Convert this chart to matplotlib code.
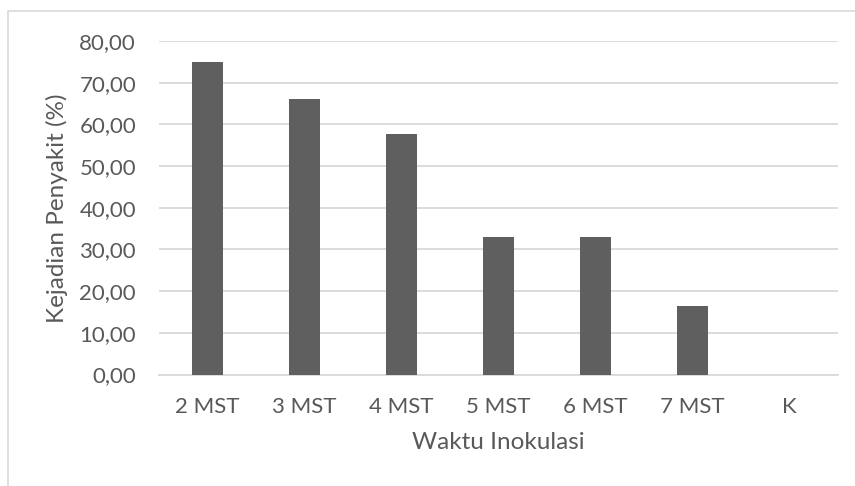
import matplotlib.pyplot as plt
from matplotlib.patches import Rectangle

# waktu inokulasi vs kejadian penyakit
categories = ['2 MST', '3 MST', '4 MST', '5 MST', '6 MST', '7 MST', 'K']
kejadian = [75.0, 66.0, 57.8, 33.0, 33.0, 16.5, 0.0]
y_ticks = [0, 10, 20, 30, 40, 50, 60, 70, 80]

text_col = '#595959'
plt.rcParams['font.family'] = ['Lato', 'DejaVu Sans']

fig = plt.figure(figsize=(8.55, 4.86), dpi=100)
ax = fig.add_axes([159 / 855, 1 - 374.5 / 486, (838 - 159) / 855, (374.5 - 41) / 486])

x = range(len(categories))
ax.bar(x, kejadian, width=0.31, color='#5f5f5f', zorder=3)

ax.set_xlim(-0.5, len(categories) - 0.5)
ax.set_ylim(0, 80)
ax.set_yticks(y_ticks)
ax.set_yticklabels([('%.2f' % v).replace('.', ',') for v in y_ticks])
ax.set_xticks(list(x))
ax.set_xticklabels(categories)

ax.grid(axis='y', color='#d9d9d9', linewidth=1.3, zorder=0)
for s in ['top', 'right', 'left']:
    ax.spines[s].set_visible(False)
ax.spines['bottom'].set_color('#d9d9d9')
ax.spines['bottom'].set_linewidth(1.3)
ax.tick_params(length=0, labelsize=16, colors=text_col)
ax.tick_params(axis='y', pad=16.5)
ax.tick_params(axis='x', pad=16)

ax.set_xlabel('Waktu Inokulasi', fontsize=17.5, color=text_col, labelpad=11)
ax.set_ylabel('Kejadian Penyakit (%)', fontsize=17.5, color=text_col, labelpad=8)

# chart border (only top and left fall inside the picture)
fig.patches.append(Rectangle((8 / 855, -0.1), 1.1, 1.1 - 11 / 486,
                             transform=fig.transFigure, fill=False,
                             edgecolor='#d9d9d9', linewidth=1.2))

plt.savefig('out.png', dpi=100)
